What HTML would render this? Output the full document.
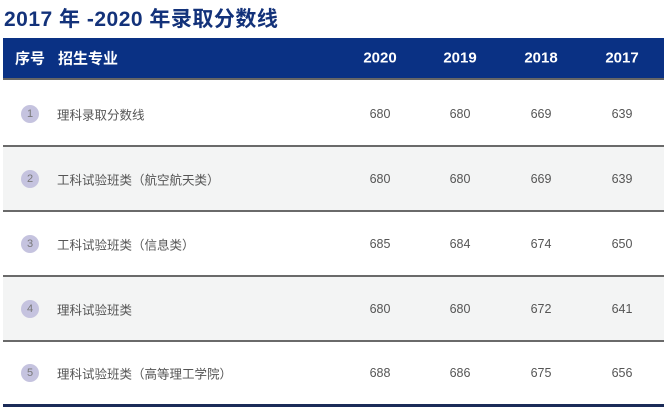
<!DOCTYPE html>
<html><head><meta charset="utf-8"><style>
*{margin:0;padding:0;box-sizing:border-box}
body{width:667px;height:410px;background:#fff;font-family:"Liberation Sans","Noto Sans CJK SC",sans-serif;position:relative;overflow:hidden}
.title{position:absolute;left:4px;top:3px;font-size:21px;font-weight:bold;color:#13327a;letter-spacing:0.5px}
.head{position:absolute;left:3px;top:38px;width:661px;height:42px;background:#0a3184;color:#fff;font-weight:bold;font-size:15px;border-bottom:2px solid #666}
.head span,.row span{position:absolute;top:50%;transform:translateY(-50%)}
.c{transform:translate(-50%,-50%)!important}
.row{position:absolute;left:3px;width:661px;height:65px;border-bottom:2px solid #6a6a6a;font-size:12.5px;color:#555}
.row.g{background:#f3f4f4}
.row.last{border-bottom:3px solid #1b2b58}
.circ{position:absolute;left:18px;top:50%;width:18px;height:18px;margin-top:-9px;border-radius:50%;background:#c5c3df;color:#777;font-size:11px;text-align:center;line-height:18px}
</style></head><body>
<div class="title">2017 年 -2020 年录取分数线</div>
<div class="head">
<span style="left:12px">序号</span>
<span style="left:55px">招生专业</span>
<span class="c" style="left:377px">2020</span>
<span class="c" style="left:457px">2019</span>
<span class="c" style="left:538px">2018</span>
<span class="c" style="left:619px">2017</span>
</div>
<div id="rows"></div>
<script>
const majors=["理科录取分数线","工科试验班类（航空航天类）","工科试验班类（信息类）","理科试验班类","理科试验班类（高等理工学院）"];
const s2020=[680,680,685,680,688];
const s2019=[680,680,684,680,686];
const s2018=[669,669,674,672,675];
const s2017=[639,639,650,641,656];
const cont=document.getElementById('rows');
majors.forEach((m,i)=>{
 const r=document.createElement('div');
 r.className='row'+(i%2?' g':'')+(i==4?' last':'');
 r.style.top=(82+i*65)+'px';
 
 
 const c=document.createElement('div');c.className='circ';c.textContent=i+1;
 
 
 r.appendChild(c);
 const n=document.createElement('span');n.style.left='54px';n.textContent=m;
 
 
 r.appendChild(n);
 [[s2020,377],[s2019,457],[s2018,538],[s2017,619]].forEach(([arr,x],k)=>{
  const v=document.createElement('span');v.className='c';v.style.left=x+'px';v.textContent=arr[i];
  
  
  r.appendChild(v);
 });
 cont.appendChild(r);
});
</script>
</body></html>
